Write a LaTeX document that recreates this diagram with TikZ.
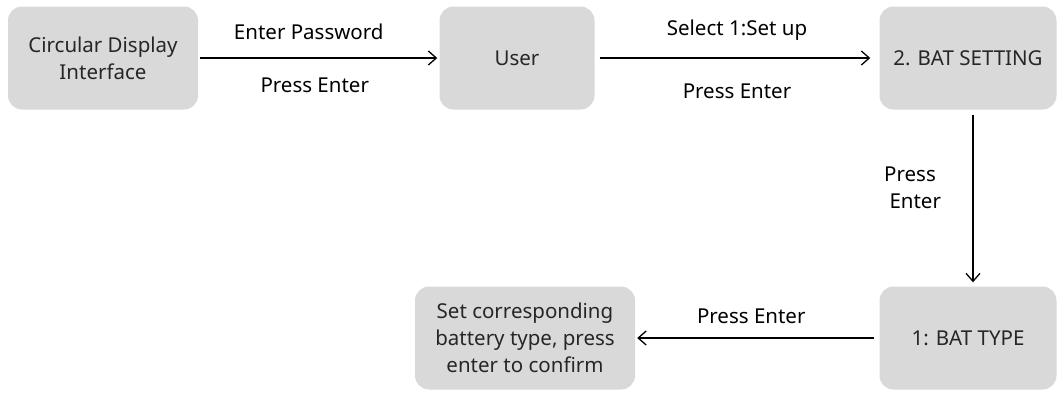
\documentclass[tikz,border=0pt]{standalone}
\usepackage{fontspec}
\setmainfont{Noto Sans}
\usepackage{tikz}
\usetikzlibrary{arrows.meta, positioning}
\definecolor{boxgray}{HTML}{D9D9D9}
\tikzstyle{state} = [rectangle, rounded corners=14pt, minimum height=103pt, text centered, align=center, inner sep=0pt, fill=boxgray, draw=none]
\tikzstyle{flow} = [-{Straight Barb[length=8pt, width=14pt]}, line width=1.3pt, black]

\begin{document}
\begin{tikzpicture}[x=1pt, y=-1pt, font=\fontsize{20.5}{27}\selectfont, text=black!85]
\useasboundingbox (0,0) rectangle (1061,392);
\node (disp) [state, minimum width=190pt] at (103,58) {Circular Display\\Interface};
\node (user) [state, minimum width=155pt] at (517,58) {User};
\node (batset) [state, minimum width=177pt] at (968,58) {2. BAT SETTING};
\node (battype) [state, minimum width=177pt] at (968,338) {1: BAT TYPE};
\node (confirm) [state, minimum width=220pt] at (525,338) {Set corresponding\\battery type, press\\enter to confirm};
\draw[flow, shorten <=2pt, shorten >=2pt] (disp) -- node[above=14pt, xshift=-10pt] {Enter Password} node[below=16pt, xshift=-4pt] {Press Enter} (user);
\draw[flow, shorten <=5pt, shorten >=9pt] (user) -- node[above=14pt] {Select 1:Set up} node[below=22pt] {Press Enter} (batset);
\draw[flow, shorten <=5pt, shorten >=4pt] ([xshift=5pt]batset.south) -- node[pos=0.44, left=28pt, align=left] {Press\\\ Enter} ([xshift=5pt]battype.north);
\draw[flow, shorten <=5pt, shorten >=2pt] (battype) -- node[above=10pt, xshift=-6pt] {Press Enter} (confirm);
\end{tikzpicture}
\end{document}
